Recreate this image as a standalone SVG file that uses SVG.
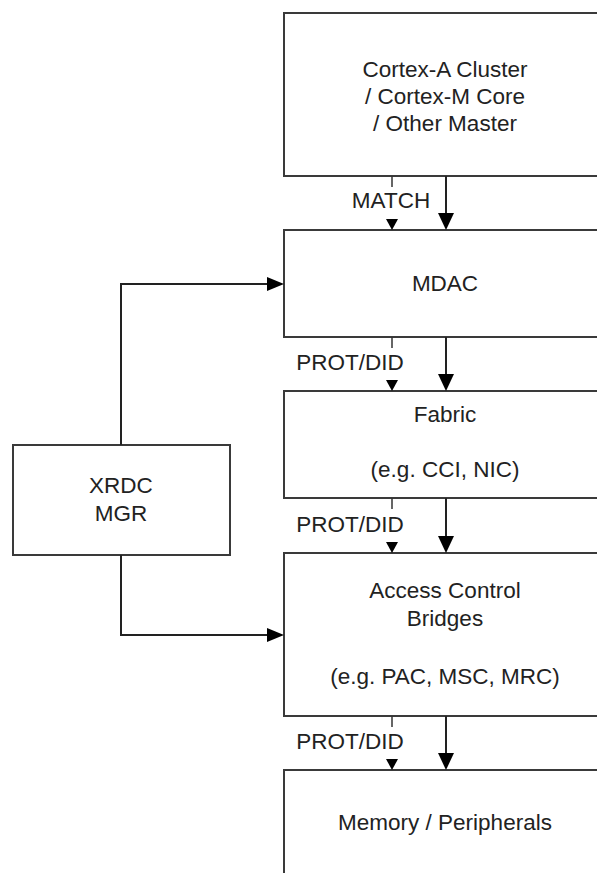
<svg xmlns="http://www.w3.org/2000/svg" width="597" height="873" viewBox="0 0 597 873">
<style>
.box{fill:#fff;stroke:#3a3a3a;stroke-width:2}
.t{font-family:"Liberation Sans",Arial,sans-serif;font-size:22.5px;fill:#222;text-anchor:middle}
.ln{fill:none;stroke:#222;stroke-width:2}
.thin{fill:none;stroke:#333;stroke-width:1.5}
.ah{fill:#000}
</style>
<rect width="597" height="873" fill="#fff"/>
<g id="master">
<rect class="box" x="284" y="13" width="330" height="163"/>
<text class="t" x="445" y="77">Cortex-A Cluster</text>
<text class="t" x="445" y="104">/ Cortex-M Core</text>
<text class="t" x="445" y="131">/ Other Master</text>
</g>
<g id="mdac">
<rect class="box" x="284" y="230" width="330" height="107"/>
<text class="t" x="445" y="291">MDAC</text>
</g>
<g id="fabric">
<rect class="box" x="284" y="391" width="330" height="107"/>
<text class="t" x="445" y="422">Fabric</text>
<text class="t" x="445" y="477">(e.g. CCI, NIC)</text>
</g>
<g id="acb">
<rect class="box" x="284" y="553" width="330" height="163"/>
<text class="t" x="445" y="598">Access Control</text>
<text class="t" x="445" y="626">Bridges</text>
<text class="t" x="445" y="684">(e.g. PAC, MSC, MRC)</text>
</g>
<g id="mem">
<rect class="box" x="284" y="770" width="330" height="120"/>
<text class="t" x="445" y="830">Memory / Peripherals</text>
</g>
<g id="xrdc">
<rect class="box" x="13" y="445" width="217" height="110"/>
<text class="t" x="121" y="493">XRDC</text>
<text class="t" x="121" y="521">MGR</text>
</g>
<g id="connectors">
<line class="thin" x1="392" y1="176" x2="392" y2="187"/>
<polygon class="ah" points="386,219 398,219 392,230"/>
<text class="t" x="391" y="208">MATCH</text>
<line class="ln" x1="446" y1="176" x2="446" y2="215"/>
<polygon class="ah" points="438,213 454,213 446,230"/>
<line class="thin" x1="392" y1="337" x2="392" y2="348"/>
<polygon class="ah" points="386,380 398,380 392,391"/>
<text class="t" x="350" y="370">PROT/DID</text>
<line class="ln" x1="446" y1="337" x2="446" y2="376"/>
<polygon class="ah" points="438,374 454,374 446,391"/>
<line class="thin" x1="392" y1="498" x2="392" y2="509"/>
<polygon class="ah" points="386,542 398,542 392,553"/>
<text class="t" x="350" y="532">PROT/DID</text>
<line class="ln" x1="446" y1="498" x2="446" y2="538"/>
<polygon class="ah" points="438,536 454,536 446,553"/>
<line class="thin" x1="392" y1="716" x2="392" y2="727"/>
<polygon class="ah" points="386,759 398,759 392,770"/>
<text class="t" x="350" y="749">PROT/DID</text>
<line class="ln" x1="446" y1="716" x2="446" y2="755"/>
<polygon class="ah" points="438,753 454,753 446,770"/>
<polyline class="ln" points="121,445 121,284 270,284"/>
<polygon class="ah" points="267,277 284,284 267,291"/>
<polyline class="ln" points="121,555 121,635 270,635"/>
<polygon class="ah" points="267,628 284,635 267,642"/>
</g>
</svg>
